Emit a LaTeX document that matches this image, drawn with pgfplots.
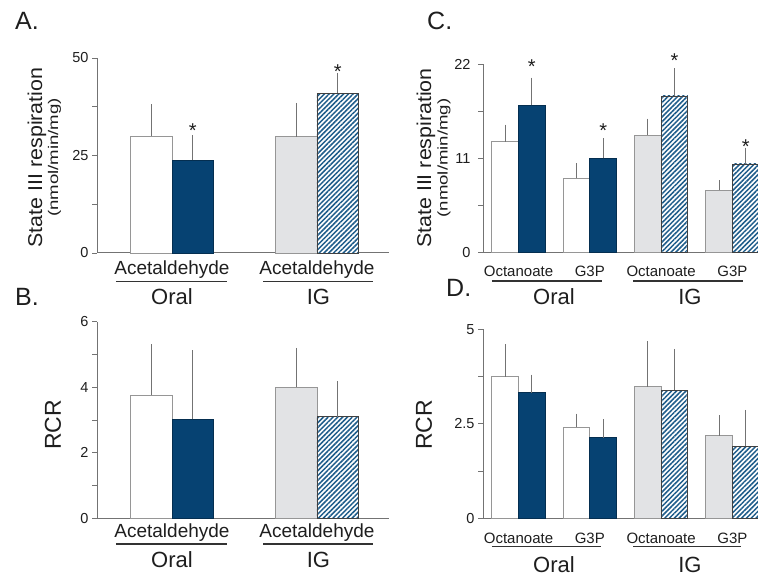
\documentclass[border=0pt]{standalone}
\usepackage{fontspec}
\setmainfont{Liberation Sans}
\usepackage{pgfplots}
\pgfplotsset{compat=1.18}
\usetikzlibrary{patterns.meta}
\definecolor{navy}{RGB}{6,66,114}
\definecolor{ctrlgray}{RGB}{226,227,229}
\definecolor{edgegray}{RGB}{150,150,150}
\definecolor{hatchblue}{RGB}{30,92,138}
\definecolor{txt}{RGB}{30,30,30}
\definecolor{axgray}{RGB}{115,115,115}
\newcommand{\fs}[1]{\fontsize{#1}{#1}\selectfont}
\pgfplotsset{
  panel/.style={scale only axis, clip=false, ymin=0,
    axis x line*=bottom, axis y line*=left,
    axis line style={axgray, line width=1pt},
    tick align=outside, major tick length=5pt, minor tick length=5pt,
    ytick style={axgray, line width=0.9pt}, minor tick style={axgray, line width=0.9pt},
    xtick style={draw=none},
    /pgf/number format/assume math mode=true,
    yticklabel style={font=\fs{14.5}, text=txt},
    xticklabel style={text=txt, anchor=base},
  },
  bar/.style={ybar, bar shift=0pt,
    error bars/y dir=plus, error bars/y explicit,
    error bars/error bar style={axgray, line width=1pt},
    error bars/error mark options={axgray, line width=1pt, mark size=3pt}},
  ctrl/.style={bar, fill=white, draw=edgegray, line width=0.8pt},
  ctrlg/.style={bar, fill=ctrlgray, draw=edgegray, line width=0.8pt},
  etoh/.style={bar, fill=navy, draw=navy!70!black, line width=0.8pt},
  hatch/.style={bar, fill=white, draw=black!75, line width=0.8pt,
    postaction={pattern={Lines[angle=45,distance=3.4pt,line width=1.5pt]}, pattern color=hatchblue}},
}
\tikzset{
  sigstar/.style={font=\fs{20}, text=txt, anchor=base, yshift=-11.5pt, inner sep=0pt},
  grp/.style={font=\fs{22}, text=txt, anchor=base, inner sep=0pt},
  uline/.style={draw=black!80, line width=1.2pt},
}
\begin{document}
\begin{tikzpicture}
\path[use as bounding box] (0pt,0pt) rectangle (758pt,577pt);

% ---------------- A ----------------
\begin{axis}[panel, at={(97pt,324pt)}, anchor=south west,
  width=292pt, height=195pt, xmin=-0.517, xmax=1.497, ymax=50,
  bar width=0.286,
  ytick={0,25,50}, minor ytick={12.5,37.5},
  xtick={0,1}, xticklabels={Acetaldehyde,Acetaldehyde},
  xticklabel style={font=\fs{19}, yshift=-17pt}]
\addplot[ctrl] coordinates {(-0.143,30.0) +- (0,7.4)};
\addplot[etoh] coordinates {(0.143,23.8) +- (0,5.6)};
\addplot[ctrlg] coordinates {(0.857,29.8) +- (0,7.9)};
\addplot[hatch] coordinates {(1.143,41.0) +- (0,4.4)};
\node[sigstar] at (axis cs:0.143,32.6) {*};
\node[sigstar] at (axis cs:1.143,47.6) {*};
\draw[uline] (axis cs:-0.386,0) ++(0pt,-28.7pt) -- ++(111pt,0pt);
\draw[uline] (axis cs:0.628,0) ++(0pt,-28.7pt) -- ++(110pt,0pt);
\node[grp] at ([yshift=-52pt]axis cs:0,0) {Oral};
\node[grp] at ([yshift=-52pt]axis cs:1.01,0) {IG};
\end{axis}

% ---------------- B ----------------
\begin{axis}[panel, at={(97pt,58.7pt)}, anchor=south west,
  width=292pt, height=196.6pt, xmin=-0.517, xmax=1.497, ymax=6,
  bar width=0.286,
  ytick={0,2,4,6}, minor ytick={1,3,5},
  xtick={0,1}, xticklabels={Acetaldehyde,Acetaldehyde},
  xticklabel style={font=\fs{19}, yshift=-14pt}]
\addplot[ctrl] coordinates {(-0.143,3.76) +- (0,1.46)};
\addplot[etoh] coordinates {(0.143,3.02) +- (0,2.01)};
\addplot[ctrlg] coordinates {(0.857,4.0) +- (0,1.11)};
\addplot[hatch] coordinates {(1.143,3.1) +- (0,0.99)};
\draw[uline] (axis cs:-0.386,0) ++(0pt,-25.7pt) -- ++(111pt,0pt);
\draw[uline] (axis cs:0.628,0) ++(0pt,-25.7pt) -- ++(110pt,0pt);
\node[grp] at ([yshift=-49.7pt]axis cs:0,0) {Oral};
\node[grp] at ([yshift=-49.7pt]axis cs:1.01,0) {IG};
\end{axis}

% ---------------- C ----------------
\begin{axis}[panel, at={(483pt,324.3pt)}, anchor=south west,
  width=275pt, height=188.4pt, xmin=-0.498, xmax=3.359, ymax=22,
  bar width=0.374,
  ytick={0,11,22}, minor ytick={5.5,16.5},
  yticklabel style={xshift=-4pt},
  xtick={0,1,2,3}, xticklabels={Octanoate,G3P,Octanoate,G3P},
  xticklabel style={font=\fs{15}, yshift=-19.3pt}]
\addplot[ctrl] coordinates {(-0.187,12.97) +- (0,1.63)};
\addplot[etoh] coordinates {(0.187,17.2) +- (0,2.9)};
\addplot[ctrl] coordinates {(0.813,8.69) +- (0,1.4)};
\addplot[etoh] coordinates {(1.187,11.0) +- (0,2.0)};
\addplot[ctrlg] coordinates {(1.813,13.75) +- (0,1.55)};
\addplot[hatch] coordinates {(2.187,18.3) +- (0,2.9)};
\addplot[ctrlg] coordinates {(2.813,7.32) +- (0,0.8)};
\addplot[hatch] coordinates {(3.187,10.36) +- (0,1.55)};
\node[sigstar] at (axis cs:0.187,22.3) {*};
\node[sigstar] at (axis cs:1.187,14.8) {*};
\node[sigstar] at (axis cs:2.187,23.0) {*};
\node[sigstar] at (axis cs:3.187,12.9) {*};
\draw[uline] (axis cs:-0.372,0) ++(0pt,-28.3pt) -- ++(110pt,0pt);
\draw[uline] (axis cs:1.606,0) ++(0pt,-28.3pt) -- ++(110pt,0pt);
\node[grp] at ([yshift=-52.3pt]axis cs:0.498,0) {Oral};
\node[grp] at ([yshift=-52.3pt]axis cs:2.405,0) {IG};
\end{axis}

% ---------------- D ----------------
\begin{axis}[panel, at={(483pt,58.7pt)}, anchor=south west,
  width=275pt, height=189pt, xmin=-0.498, xmax=3.359, ymax=5,
  bar width=0.374,
  ytick={0,2.5,5}, minor ytick={1.25,3.75},
  yticklabel style={/pgf/number format/fixed},
  xtick={0,1,2,3}, xticklabels={Octanoate,G3P,Octanoate,G3P},
  xticklabel style={font=\fs{15}, yshift=-20.5pt}]
\addplot[ctrl] coordinates {(-0.187,3.75) +- (0,0.77)};
\addplot[etoh] coordinates {(0.187,3.32) +- (0,0.40)};
\addplot[ctrl] coordinates {(0.813,2.41) +- (0,0.28)};
\addplot[etoh] coordinates {(1.187,2.13) +- (0,0.41)};
\addplot[ctrlg] coordinates {(1.813,3.48) +- (0,1.13)};
\addplot[hatch] coordinates {(2.187,3.39) +- (0,1.01)};
\addplot[ctrlg] coordinates {(2.813,2.19) +- (0,0.46)};
\addplot[hatch] coordinates {(3.187,1.91) +- (0,0.88)};
\draw[uline] (axis cs:-0.372,0) ++(0pt,-28.4pt) -- ++(109pt,0pt);
\draw[uline] (axis cs:1.606,0) ++(0pt,-28.4pt) -- ++(108pt,0pt);
\node[grp] at ([yshift=-54.7pt]axis cs:0.498,0) {Oral};
\node[grp] at ([yshift=-54.7pt]axis cs:2.405,0) {IG};
\end{axis}

% ---------------- labels ----------------
\node[rotate=90, font=\fs{20}, text=txt, inner sep=0pt] at (37pt,419.5pt) {\scalebox{1.07}[1]{State III respiration}};
\node[rotate=90, font=\fs{14}, text=txt, inner sep=0pt] at (54.5pt,419.5pt) {\scalebox{1.33}[1]{(nmol/min/mg)}};
\node[rotate=90, font=\fs{20}, text=txt, inner sep=0pt] at (426pt,419pt) {\scalebox{1.07}[1]{State III respiration}};
\node[rotate=90, font=\fs{14}, text=txt, inner sep=0pt] at (444pt,419pt) {\scalebox{1.33}[1]{(nmol/min/mg)}};
\node[rotate=90, font=\fs{23}, text=txt, inner sep=0pt] at (53pt,152pt) {RCR};
\node[rotate=90, font=\fs{23}, text=txt, inner sep=0pt] at (424pt,152pt) {RCR};
\node[font=\fs{25}, text=txt, anchor=base west, inner sep=0pt] at (15pt,547pt) {A.};
\node[font=\fs{25}, text=txt, anchor=base west, inner sep=0pt] at (15pt,271pt) {B.};
\node[font=\fs{25}, text=txt, anchor=base west, inner sep=0pt] at (427pt,547pt) {C.};
\node[font=\fs{25}, text=txt, anchor=base west, inner sep=0pt] at (446pt,280pt) {D.};
\end{tikzpicture}
\end{document}
